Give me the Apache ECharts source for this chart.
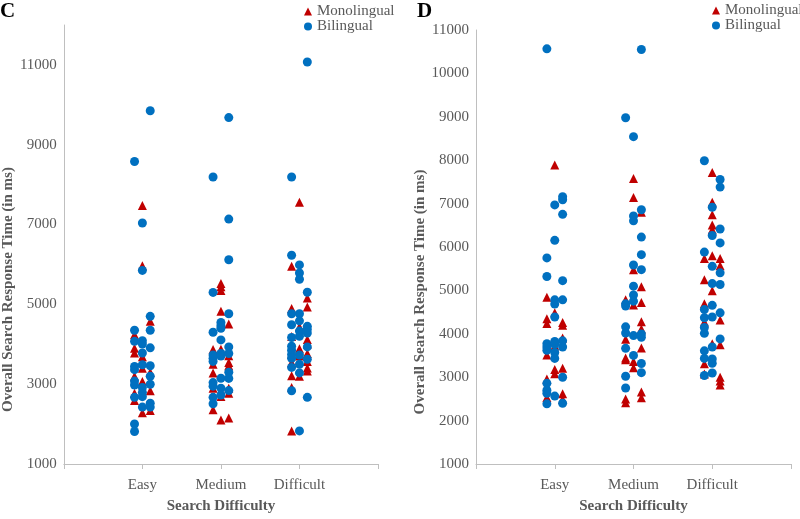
<!DOCTYPE html>
<html>
<head>
<meta charset="utf-8">
<script src="https://cdn.jsdelivr.net/npm/echarts@6/dist/echarts.min.js"></script>
<style>
html,body{margin:0;padding:0;background:#fff;}
#chart{width:800px;height:519px;}
</style>
</head>
<body>
<div id="chart"></div>
<script>
// ---- data ----
const categories = ['Easy', 'Medium', 'Difficult'];
const seriesNames = ['Monolingual', 'Bilingual'];
const yTicksC = [1000, 3000, 5000, 7000, 9000, 11000];
const yTicksD = [1000, 2000, 3000, 4000, 5000, 6000, 7000, 8000, 9000, 10000, 11000];

// each array: [left jitter column, centre column, right jitter column]
// Panel C
const cMonoEasy = [[4240, 3900, 3780, 3200, 2770, 2590], [7480, 5970, 3690, 3400, 3070, 2285], [4580, 3300, 2834, 2340]];
const cMonoMedium = [[3868, 3500, 3282, 2900, 2360], [5520, 5440, 5350, 4830, 3877, 2690, 2100], [4510, 3710, 3543, 3460, 2900, 2770, 2150]];
const cMonoDifficult = [[5955, 4895, 4195, 3755, 3543, 3210, 2915, 1830], [7560, 4440, 3890, 3706, 3200], [5157, 4935, 4120, 4007, 3770, 3567, 3404, 3330]];
const cBiEasy = [[8580, 4350, 4073, 3445, 3364, 3078, 2980, 2670, 2002, 1814], [7040, 5850, 4088, 4007, 3780, 3486, 2915, 2792, 2687, 2426], [9850, 4700, 4350, 3910, 3462, 3200, 2997, 2525, 2426]];
const cBiMedium = [[8190, 5300, 4300, 3730, 3650, 3570, 3040, 2950, 2670, 2510], [4545, 4464, 4400, 4110, 3770, 3706, 3150, 2900, 2730], [9680, 7137, 6118, 4765, 3934, 3770, 3298, 3144, 2840]];
const cBiDifficult = [[8190, 6232, 4765, 4490, 4170, 3950, 3850, 3746, 3650, 3420, 2834], [5988, 5785, 5630, 4765, 4587, 4330, 4200, 3730, 3500, 3282, 1830], [11073, 5303, 4450, 4370, 4280, 3934, 3625, 2670]];
// Panel D
const dMonoEasy = [[4842, 4348, 4236, 3510, 2960, 2535], [7892, 4483, 3719, 3180, 3080], [4258, 4198, 3905, 3209, 2620, 2490]];
const dMonoMedium = [[4782, 3877, 3440, 3400, 2498, 2409], [7577, 7141, 5478, 4663, 3359, 3215], [6800, 5083, 4723, 4280, 4108, 3674, 2660, 2528]];
const dMonoDifficult = [[5734, 5247, 4690, 4274, 3308, 3074], [7719, 7030, 6745, 6505, 6400, 5800, 4990, 3771], [5734, 5569, 4318, 3748, 3000, 2910, 2820]];
const dBiEasy = [[10566, 5748, 5321, 3771, 3696, 3622, 2858, 2700, 2630, 2386], [6970, 6153, 4782, 4685, 4386, 3824, 3757, 3568, 3433, 2564], [7157, 7090, 6752, 5224, 4782, 3838, 3696, 3000, 2400]];
const dBiMedium = [[8977, 4690, 4640, 4160, 4018, 3665, 3022, 2750], [8543, 6714, 6602, 5584, 5097, 4894, 4752, 3958, 3502], [10550, 6858, 6229, 5824, 5478, 3995, 3921, 3315, 3105]];
const dBiDifficult = [[7988, 5883, 4558, 4371, 4146, 4011, 3607, 3433, 3038], [6917, 6265, 5555, 5157, 4656, 4386, 3696, 3420, 3321, 3097], [7554, 7381, 6415, 6094, 5404, 5135, 4483, 3883]];

// ---- build ----
const JITTER = 0.1;
function toPoints(groups) {
  const out = [];
  groups.forEach(function (cols, ci) {
    cols.forEach(function (vals, j) {
      vals.forEach(function (v) { out.push([ci + 1 + (j - 1) * JITTER, v]); });
    });
  });
  return out;
}
const FONT = "'Liberation Serif', 'Times New Roman', serif";
const GREY = '#595959';
const RED = '#C00000';
const BLUE = '#0070C0';

function xAxis(gi) {
  return {
    type: 'value', gridIndex: gi, min: 0, max: categories.length + 1, interval: 1,
    splitLine: { show: false },
    axisLine: { lineStyle: { color: '#BFBFBF', width: 1 } },
    axisTick: { show: true, length: 5, lineStyle: { color: '#BFBFBF' } },
    axisLabel: {
      color: GREY, fontFamily: FONT, fontSize: 15, margin: 14,
      formatter: function (v) { return categories[Math.round(v) - 1] || ''; }
    },
    name: 'Search Difficulty', nameLocation: 'middle', nameGap: 35,
    nameTextStyle: { color: GREY, fontFamily: FONT, fontSize: 15, fontWeight: 'bold' }
  };
}
function yAxis(gi, ticks, max) {
  return {
    type: 'value', gridIndex: gi, min: ticks[0], max: max, interval: ticks[1] - ticks[0],
    splitLine: { show: false },
    axisLine: { show: true, lineStyle: { color: '#BFBFBF', width: 1 } },
    axisTick: { show: false },
    axisLabel: {
      color: GREY, fontFamily: FONT, fontSize: 15, margin: 7,
      showMaxLabel: max === ticks[ticks.length - 1],
      formatter: function (v) { return ticks.indexOf(v) >= 0 ? String(v) : ''; }
    },
    name: 'Overall Search Response Time (in ms)', nameLocation: 'middle', nameGap: 47, nameRotate: 90,
    nameTextStyle: { color: GREY, fontFamily: FONT, fontSize: 15, fontWeight: 'bold', padding: [0, 90, 0, 0] }
  };
}
function scatter(name, gi, data) {
  const mono = name === seriesNames[0];
  return {
    name: name, type: 'scatter', xAxisIndex: gi, yAxisIndex: gi,
    symbol: mono ? 'triangle' : 'circle', symbolSize: 9,
    itemStyle: { color: mono ? RED : BLUE, opacity: 1 },
    data: data, z: mono ? 2 : 3
  };
}

const chart = echarts.init(document.getElementById('chart'), null, { renderer: 'canvas' });
chart.setOption({
  animation: false,
  backgroundColor: '#fff',
  textStyle: { fontFamily: FONT },
  title: [
    { text: 'C', left: 0, top: 1, padding: 0, textStyle: { fontFamily: FONT, fontSize: 21, fontWeight: 'bold', color: '#000' } },
    { text: 'D', left: 417, top: 1, padding: 0, textStyle: { fontFamily: FONT, fontSize: 21, fontWeight: 'bold', color: '#000' } }
  ],
  legend: [
    { orient: 'vertical', left: 304, top: 4, padding: 0, itemGap: 0, itemWidth: 8, itemHeight: 8, data: seriesNames,
      textStyle: { color: GREY, fontFamily: FONT, fontSize: 15 } },
    { orient: 'vertical', left: 712, top: 3, padding: 0, itemGap: 0, itemWidth: 8, itemHeight: 8, data: seriesNames,
      textStyle: { color: GREY, fontFamily: FONT, fontSize: 15 } }
  ],
  grid: [
    { left: 62, top: 25, width: 316, height: 450 },
    { left: 476, top: 30, width: 315, height: 445 }
  ],
  xAxis: [xAxis(0), xAxis(1)],
  yAxis: [yAxis(0, yTicksC, 12000), yAxis(1, yTicksD, 11000)],
  series: [
    scatter('Monolingual', 0, toPoints([cMonoEasy, cMonoMedium, cMonoDifficult])),
    scatter('Bilingual', 0, toPoints([cBiEasy, cBiMedium, cBiDifficult])),
    scatter('Monolingual', 1, toPoints([dMonoEasy, dMonoMedium, dMonoDifficult])),
    scatter('Bilingual', 1, toPoints([dBiEasy, dBiMedium, dBiDifficult]))
  ]
});
</script>
</body>
</html>
